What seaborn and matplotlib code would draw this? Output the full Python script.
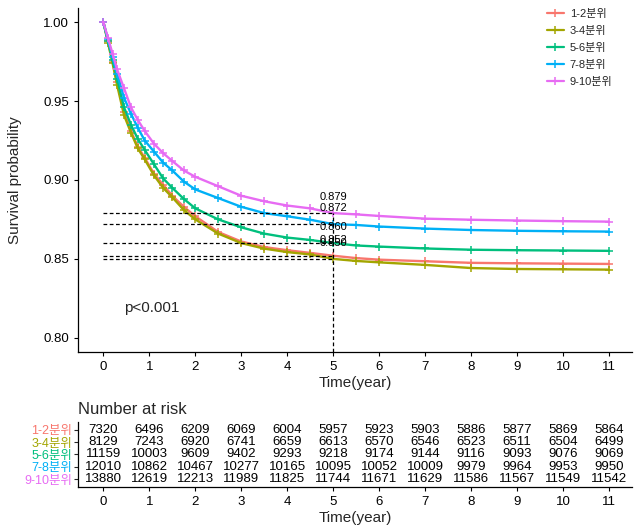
import numpy as np
import pandas as pd
import matplotlib
matplotlib.use("Agg")
import matplotlib.pyplot as plt
from matplotlib.lines import Line2D
import seaborn as sns

# ---------------- data ----------------
groups = ["1-2분위", "3-4분위", "5-6분위", "7-8분위", "9-10분위"]
colors = ["#F8766D", "#A3A500", "#00BF7D", "#00B0F6", "#E76BF3"]

times = [0, 0.1, 0.2, 0.3, 0.45, 0.6, 0.75, 0.9, 1.1, 1.3, 1.5, 1.75, 2.0,
         2.5, 3.0, 3.5, 4.0, 4.5, 5.0, 5.5, 6.0, 7.0, 8.0, 9.0, 10.0, 11.0]

surv_12 = [1.0, 0.988, 0.975, 0.962, 0.943, 0.931, 0.921, 0.914, 0.904, 0.897, 0.890,
           0.883, 0.877, 0.867, 0.861, 0.8575, 0.8555, 0.8538, 0.852, 0.8505, 0.8495,
           0.8485, 0.8475, 0.8472, 0.8470, 0.8468]
surv_34 = [1.0, 0.987, 0.974, 0.960, 0.941, 0.930, 0.920, 0.913, 0.903, 0.895, 0.889,
           0.881, 0.875, 0.866, 0.860, 0.8565, 0.8543, 0.8528, 0.850, 0.8487, 0.8478,
           0.8462, 0.8442, 0.8436, 0.8434, 0.8432]
surv_56 = [1.0, 0.988, 0.976, 0.964, 0.946, 0.935, 0.926, 0.919, 0.910, 0.901, 0.895,
           0.888, 0.882, 0.875, 0.870, 0.866, 0.8635, 0.862, 0.860, 0.8585, 0.8578,
           0.8566, 0.8558, 0.8555, 0.8553, 0.8551]
surv_78 = [1.0, 0.989, 0.978, 0.967, 0.952, 0.942, 0.933, 0.925, 0.918, 0.911, 0.906,
           0.899, 0.894, 0.8885, 0.883, 0.879, 0.877, 0.8748, 0.872, 0.8715, 0.8705,
           0.8692, 0.8683, 0.8678, 0.8675, 0.8673]
surv_910 = [1.0, 0.990, 0.980, 0.970, 0.958, 0.946, 0.938, 0.931, 0.923, 0.917, 0.912,
            0.906, 0.902, 0.896, 0.890, 0.8865, 0.8838, 0.882, 0.879, 0.8782, 0.8772,
            0.8755, 0.8748, 0.8743, 0.8739, 0.8736]

# survival at 5 years (annotated)
surv5_values = [0.852, 0.850, 0.860, 0.872, 0.879]
surv5_labels = ["0.852", "0.850", "0.860", "0.872", "0.879"]
p_text = "p<0.001"

risk_times = list(range(12))
risk_12 = [7320, 6496, 6209, 6069, 6004, 5957, 5923, 5903, 5886, 5877, 5869, 5864]
risk_34 = [8129, 7243, 6920, 6741, 6659, 6613, 6570, 6546, 6523, 6511, 6504, 6499]
risk_56 = [11159, 10003, 9609, 9402, 9293, 9218, 9174, 9144, 9116, 9093, 9076, 9069]
risk_78 = [12010, 10862, 10467, 10277, 10165, 10095, 10052, 10009, 9979, 9964, 9953, 9950]
risk_910 = [13880, 12619, 12213, 11989, 11825, 11744, 11671, 11629, 11586, 11567, 11549, 11542]

surv_all = [surv_12, surv_34, surv_56, surv_78, surv_910]
risk_all = [risk_12, risk_34, risk_56, risk_78, risk_910]

df = pd.DataFrame({
    "time": np.tile(times, len(groups)),
    "surv": np.concatenate(surv_all),
    "group": np.repeat(groups, len(times)),
})

# ---------------- style ----------------
sns.set_theme(style="ticks")
plt.rcParams["font.family"] = ["Liberation Sans", "Noto Sans CJK KR", "DejaVu Sans"]
plt.rcParams["axes.unicode_minus"] = False

fig = plt.figure(figsize=(6.4, 5.28), dpi=100)
ax = fig.add_axes([0.122, 0.3333, 0.8655, 0.6517])
axr = fig.add_axes([0.122, 0.0777, 0.8655, 0.1231])

palette = dict(zip(groups, colors))
sns.lineplot(data=df, x="time", y="surv", hue="group", palette=palette,
             hue_order=groups, ax=ax, legend=False, linewidth=1.7,
             marker="+", markersize=6, markeredgewidth=1.1, estimator=None,
             sort=True)
for ln in ax.lines:
    ln.set_markeredgecolor(ln.get_color())
    ln.set_linestyle("-")

# reference dashed lines at 5 years
for v, lab in zip(surv5_values, surv5_labels):
    ax.plot([0, 5], [v, v], ls=(0, (3, 2)), color="black", lw=0.9)
    ax.text(5, v + 0.0102, lab, ha="center", va="center", fontsize=8, color="black")
ax.plot([5, 5], [0.791, max(surv5_values)], ls=(0, (3, 2)), color="black", lw=0.9)

ax.text(0.45, 0.819, p_text, ha="left", va="center", fontsize=11)

ax.set_xlim(-0.55, 11.5)
ax.set_ylim(0.791, 1.009)
ax.set_xticks(risk_times)
ax.set_yticks([0.80, 0.85, 0.90, 0.95, 1.00])
ax.set_yticklabels(["0.80", "0.85", "0.90", "0.95", "1.00"])
ax.set_xlabel("Time(year)", fontsize=11, labelpad=2)
ax.set_ylabel("Survival probability", fontsize=11, labelpad=15)
ax.tick_params(labelsize=9.5, length=3, width=0.8, colors="black")
for s in ["top", "right"]:
    ax.spines[s].set_visible(False)
for s in ["left", "bottom"]:
    ax.spines[s].set_linewidth(0.9)
    ax.spines[s].set_color("black")

handles = [Line2D([0], [0], color=c, lw=1.6, marker="+", markersize=6,
                  markeredgewidth=1.1) for c in colors]
ax.legend(handles, groups, loc="upper right", bbox_to_anchor=(0.975, 1.012),
          frameon=False, fontsize=8, handlelength=1.6, labelspacing=0.62,
          borderaxespad=0.1, handletextpad=0.5)

# ---------------- risk table ----------------
rows = [5, 4, 3, 2, 1]
for r, vals in zip(rows, risk_all):
    for t, n in zip(risk_times, vals):
        axr.text(t, r, str(n), ha="center", va="center", fontsize=9.5, color="black")

axr.set_xlim(-0.55, 11.5)
axr.set_ylim(0.35, 5.65)
axr.set_xticks(risk_times)
axr.set_yticks(rows)
axr.set_yticklabels(groups)
for lab, c in zip(axr.get_yticklabels(), colors):
    lab.set_color(c)
axr.tick_params(axis="y", labelsize=9, length=3, width=0.8, pad=1)
axr.tick_params(axis="x", labelsize=9.5, length=3, width=0.8, colors="black")
axr.set_xlabel("Time(year)", fontsize=11, labelpad=2)
axr.set_title("Number at risk", loc="left", fontsize=12, pad=6, x=0.0)
for s in ["top", "right"]:
    axr.spines[s].set_visible(False)
for s in ["left", "bottom"]:
    axr.spines[s].set_linewidth(0.9)
    axr.spines[s].set_color("black")

fig.savefig("out.png", dpi=100)
